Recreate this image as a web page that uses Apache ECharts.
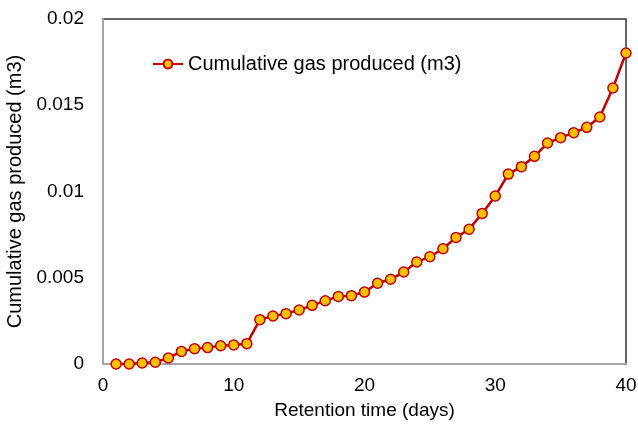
<!DOCTYPE html>
<html>
<head>
<meta charset="utf-8">
<script src="https://cdn.jsdelivr.net/npm/echarts@6/dist/echarts.min.js"></script>
<style>html,body{margin:0;padding:0;background:#fff}#c{width:638px;height:425px}</style>
</head>
<body>
<div id="c"></div>
<script>
const days = [1,2,3,4,5,6,7,8,9,10,11,12,13,14,15,16,17,18,19,20,21,22,23,24,25,26,27,28,29,30,31,32,33,34,35,36,37,38,39,40];
const gas = [0,0,0.00006,0.0001,0.00035,0.00073,0.00089,0.00095,0.00106,0.0011,0.00118,0.00257,0.00278,0.00292,0.00313,0.0034,0.00367,0.00392,0.00396,0.00417,0.00468,0.00491,0.00533,0.00591,0.00622,0.00668,0.00734,0.00781,0.00873,0.00974,0.01101,0.01144,0.01204,0.01281,0.01312,0.01341,0.01372,0.01432,0.016,0.01803];
const seriesName = 'Cumulative gas produced (m3)';
const xTitle = 'Retention time (days)';
const yTitle = 'Cumulative gas produced (m3)';

const chart = echarts.init(document.getElementById('c'));
const font = 'Liberation Sans, Arial, sans-serif';
chart.setOption({
  animation: false,
  backgroundColor: '#fff',
  grid: { left: 103, right: 12, top: 19, bottom: 61, containLabel: false, outerBoundsMode: 'none', show: true, borderColor: '#333', borderWidth: 1.5 },
  legend: {
    left: 147, top: 49,
    itemWidth: 30, itemHeight: 11,
    textStyle: { fontFamily: font, fontSize: 20, color: '#000' },
    data: [seriesName]
  },
  xAxis: {
    type: 'value', min: 0, max: 40, interval: 10,
    name: xTitle, nameLocation: 'middle', nameGap: 37,
    nameTextStyle: { fontFamily: font, fontSize: 19, color: '#000' },
    axisLine: { show: true, lineStyle: { color: '#A6A6A6', width: 2 } },
    axisTick: { show: false },
    splitLine: { show: false },
    axisLabel: { fontFamily: font, fontSize: 19, color: '#000', margin: 12 }
  },
  yAxis: {
    type: 'value', min: 0, max: 0.02, interval: 0.005,
    name: yTitle, nameLocation: 'middle', nameGap: 73, nameRotate: 90,
    nameTextStyle: { fontFamily: font, fontSize: 20, color: '#000' },
    axisLine: { show: true, lineStyle: { color: '#A6A6A6', width: 2 } },
    axisTick: { show: false },
    splitLine: { show: false },
    axisLabel: { fontFamily: font, fontSize: 19, color: '#000', margin: 19 }
  },
  series: [{
    name: seriesName,
    type: 'line',
    data: days.map((d, i) => [d, gas[i]]),
    symbol: 'circle', symbolSize: 10,
    lineStyle: { color: '#C00000', width: 2.5 },
    itemStyle: { color: '#FFC000', borderColor: '#C00000', borderWidth: 1.5 },
    clip: false
  }]
});
</script>
</body>
</html>
